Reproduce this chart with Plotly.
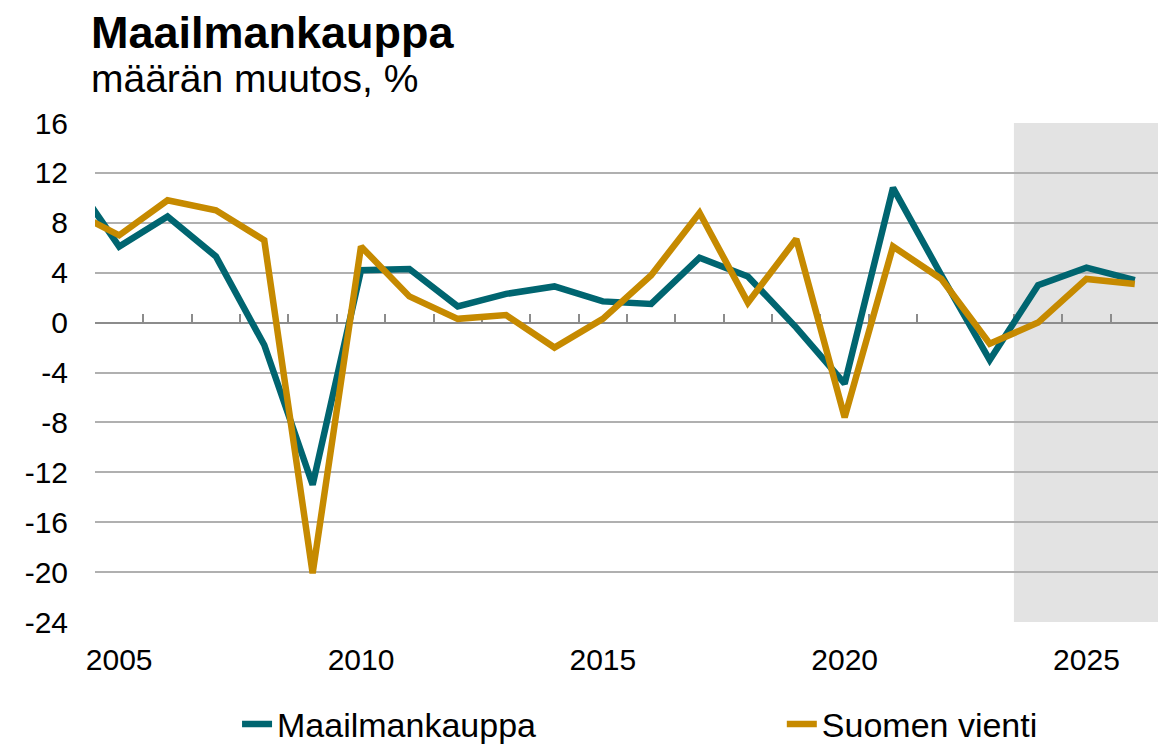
import plotly.graph_objects as go

vuodet = list(range(2004, 2027))
maailmankauppa = [11.7, 6.1, 8.5, 5.3, -1.8, -13.0, 4.2, 4.3, 1.3, 2.3, 2.9, 1.7,
                  1.5, 5.2, 3.7, -0.4, -4.9, 10.8, 3.8, -3.0, 3.0, 4.4, 3.4]
suomen_vienti = [9.0, 7.0, 9.8, 9.0, 6.6, -20.1, 6.1, 2.1, 0.3, 0.6, -2.0, 0.3,
                 3.8, 8.8, 1.6, 6.7, -7.6, 6.1, 3.5, -1.7, 0.0, 3.5, 3.1]
y_ticks = list(range(-24, 17, 4))
y_labels = [str(v) for v in y_ticks]  # tavallinen tavuviiva, ei unicode-miinus
x_labels = [2005, 2010, 2015, 2020, 2025]
ennuste_alku, ennuste_loppu = 2023.5, 2026.5

FONT = "Arial, Liberation Sans, sans-serif"
TEAL = "#006570"
GOLD = "#C68A00"
x_range = [2004.5, 2026.5]

fig = go.Figure()
fig.add_trace(go.Scatter(x=vuodet, y=maailmankauppa, name="Maailmankauppa",
                         mode="lines", line=dict(color=TEAL, width=6.5),
                         legend="legend"))
fig.add_trace(go.Scatter(x=vuodet, y=suomen_vienti, name="Suomen vienti",
                         mode="lines", line=dict(color=GOLD, width=6.5),
                         legend="legend2"))
# tyhjä sarja, jotta nolla-akseli piirtyy
fig.add_trace(go.Scatter(x=vuodet, y=[None] * len(vuodet), xaxis="x2",
                         showlegend=False, hoverinfo="skip"))

# ennustejakso harmaalla
fig.add_shape(type="rect", xref="x", yref="y", x0=ennuste_alku, x1=ennuste_loppu,
              y0=y_ticks[0], y1=y_ticks[-1], fillcolor="#e3e3e3",
              line=dict(width=0), layer="below")

legend_style = dict(orientation="h", xanchor="left", y=-0.205, yanchor="middle",
                    font=dict(size=34), bgcolor="rgba(0,0,0,0)")

# sivun body-marginaali (8px) huomioitu mitoissa
fig.update_layout(
    width=1158, height=736,
    margin=dict(l=87, r=7, t=115, b=122, autoexpand=False),
    paper_bgcolor="white", plot_bgcolor="white",
    font=dict(family=FONT, size=30, color="black"),
    xaxis=dict(range=x_range, tickvals=x_labels, showgrid=False, zeroline=False,
               showline=False, ticks="", ticklabelstandoff=17,
               tickfont=dict(size=30)),
    xaxis2=dict(range=x_range, overlaying="x", anchor="free", position=0.6,
                side="bottom", tickvals=[v + 0.5 for v in range(2004, 2027)],
                ticks="inside", ticklen=8, tickwidth=1.5, tickcolor="#8c8c8c",
                showline=True, linecolor="#8c8c8c", linewidth=2,
                showticklabels=False, showgrid=False, zeroline=False,
                layer="below traces"),
    yaxis=dict(range=[y_ticks[0], y_ticks[-1]], tickvals=y_ticks, ticktext=y_labels,
               showgrid=True, gridcolor="#b0b0b0", gridwidth=1.5,
               zeroline=False, ticks="", ticklabelstandoff=26,
               tickfont=dict(size=30)),
    showlegend=True,
    legend=dict(x=0.1335, **legend_style),
    legend2=dict(x=0.6455, **legend_style),
    annotations=[
        dict(text="<b>Maailmankauppa</b>", xref="paper", yref="paper",
             x=-0.006, y=1.182, xanchor="left", yanchor="middle",
             showarrow=False, font=dict(size=45, color="black")),
        dict(text="määrän muutos, %", xref="paper", yref="paper",
             x=-0.006, y=1.090, xanchor="left", yanchor="middle",
             showarrow=False, font=dict(size=39, color="black")),
    ],
)

fig.write_html("out.html")
